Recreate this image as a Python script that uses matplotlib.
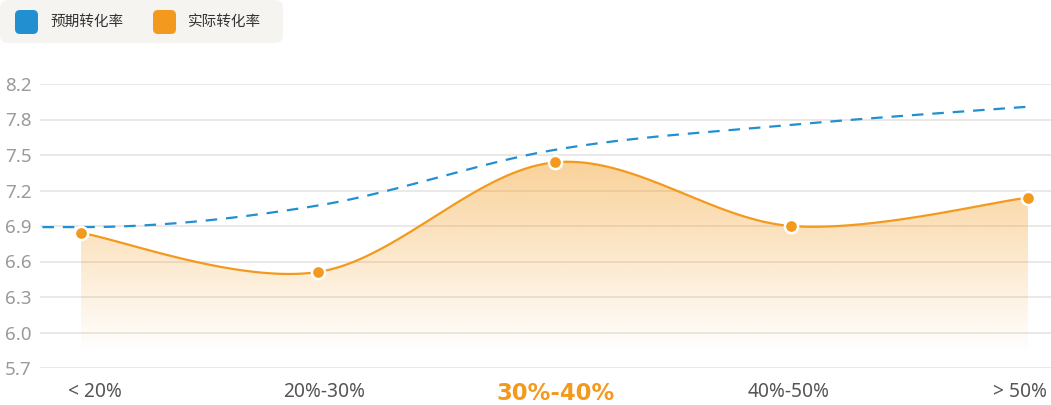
import matplotlib
matplotlib.use('Agg')
import matplotlib.pyplot as plt
import numpy as np
from matplotlib.patches import FancyBboxPatch
from matplotlib.path import Path
from matplotlib.patches import PathPatch

plt.rcParams['font.family'] = ['Noto Sans', 'Noto Sans CJK SC', 'DejaVu Sans']
plt.rcParams['axes.unicode_minus'] = False

# 数据
categories = ['< 20%', '20%-30%', '30%-40%', '40%-50%', '> 50%']
expected = [6.94, 7.13, 7.62, 7.84, 8.0]     # 预期转化率
actual = [6.89, 6.545, 7.51, 6.95, 7.20]     # 实际转化率
ytick_labels = ['5.7', '6.0', '6.3', '6.6', '6.9', '7.2', '7.5', '7.8', '8.2']
series_names = ['预期转化率', '实际转化率']
highlight = 2

BLUE = '#2290d0'
ORANGE = '#f39a1e'
GRID = '#e6e1de'

W, H = 1051, 405
fig = plt.figure(figsize=(W / 100, H / 100), dpi=100)
ax = fig.add_axes([40 / W, (H - 368) / H, (W - 40) / W, (368 - 84) / H])

x = np.arange(len(categories))
ax.set_xlim(-41 / 236.75, 4 + 23 / 236.75)
ax.set_ylim(5.7, 8.2)


def smooth_curve(xs, ys, flat_start=False, n=80):
    # Catmull-Rom 平滑
    P = np.column_stack([xs, ys]).astype(float)
    out = [P[0]]
    for i in range(len(P) - 1):
        p0 = P[i - 1] if i > 0 else P[i]
        p1, p2 = P[i], P[i + 1]
        p3 = P[i + 2] if i + 2 < len(P) else P[i + 1]
        c0 = p1 + (p2 - p0) / 6
        if i == 0 and flat_start:
            c0 = p1 + np.array([(p2[0] - p1[0]) / 3, 0])
        c1 = p2 - (p3 - p1) / 6
        t = np.linspace(0, 1, n)[:, None]
        seg = ((1 - t) ** 3 * p1 + 3 * (1 - t) ** 2 * t * c0
               + 3 * (1 - t) * t ** 2 * c1 + t ** 3 * p2)
        out.extend(seg[1:])
    return np.array(out)


# 网格线
yt = np.linspace(5.7, 8.2, len(ytick_labels))
for v in yt:
    ax.axhline(v, color=GRID, lw=1.1, zorder=0)

# 实际转化率 - 渐变填充
ca = smooth_curve(x, actual)
base = 5.84
verts = np.vstack([ca, [[ca[-1, 0], base], [ca[0, 0], base]], ca[:1]])
clip = PathPatch(Path(verts, closed=True), transform=ax.transData,
                 facecolor='none', edgecolor='none')
ax.add_patch(clip)
top = ca[:, 1].max()
grad = np.zeros((200, 1, 4))
grad[:, 0, :3] = matplotlib.colors.to_rgb(ORANGE)
grad[:, 0, 3] = np.linspace(0.45, 0.0, 200)
im = ax.imshow(grad, extent=[x[0], x[-1], base, top], aspect='auto',
               origin='upper', zorder=1, interpolation='bilinear')
im.set_clip_path(clip)

ax.plot(ca[:, 0], ca[:, 1], color=ORANGE, lw=1.6, zorder=3)
ax.plot(x, actual, 'o', color=ORANGE, ms=9.5, mec='white', mew=1.8,
        zorder=4)

# 预期转化率 - 虚线
ce = smooth_curve(x, expected, flat_start=True)
ce = np.vstack([[ax.get_xlim()[0] + 0.01, expected[0]], ce])
ax.plot(ce[:, 0], ce[:, 1], color=BLUE, lw=1.6, ls=(0, (5.2, 4.0)), zorder=2)

# 坐标轴
for s in ax.spines.values():
    s.set_visible(False)
ax.set_yticks(yt)
ax.set_yticklabels(ytick_labels)
ax.tick_params(axis='y', length=0, pad=6, labelsize=13.5, labelcolor='#9a9a9a')

label_pos = np.array([14, 6, 1, -3, -8]) / 236.75 + x
ax.set_xticks(label_pos)
ax.set_xticklabels(categories)
ax.tick_params(axis='x', length=0, pad=10, labelsize=13.8, labelcolor='#555555')
lab = ax.get_xticklabels()[highlight]
lab.set_color(ORANGE)
lab.set_fontsize(16.3)
lab.set_fontfamily(['DejaVu Sans'])
lab.set_fontweight('bold')

# 图例
lg = fig.add_axes([0, 0, 1, 1])
lg.set_xlim(0, W)
lg.set_ylim(H, 0)
lg.axis('off')
lg.add_patch(FancyBboxPatch((0, 0), 283, 43, boxstyle='round,pad=0,rounding_size=8',
                            fc='#f5f4f1', ec='none'))
for cx, tx, c, name in [(15, 50, BLUE, series_names[0]), (153, 188, ORANGE, series_names[1])]:
    lg.add_patch(FancyBboxPatch((cx, 10), 23, 24, boxstyle='round,pad=0,rounding_size=5',
                                fc=c, ec='none'))
    lg.text(tx, 22.5, name, fontsize=10.5, color='#333333', va='center', ha='left')

fig.savefig('out.png', dpi=100)
